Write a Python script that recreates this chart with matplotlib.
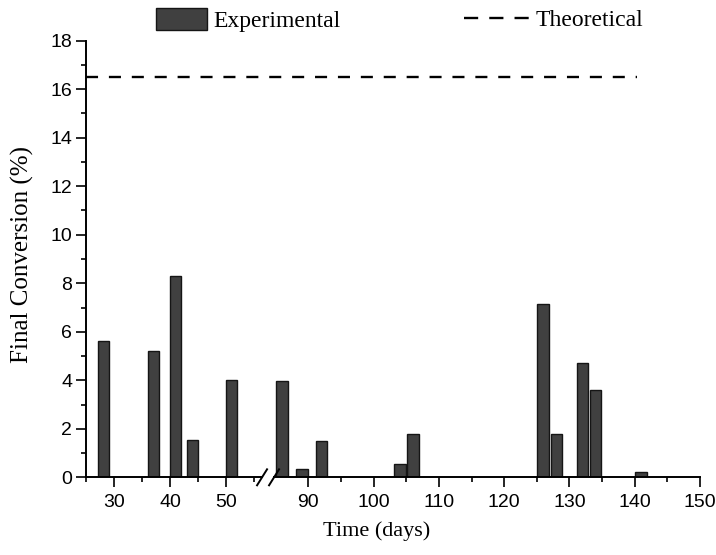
import numpy as np
import matplotlib
matplotlib.use("Agg")
import matplotlib.pyplot as plt
from matplotlib.patches import Patch, Rectangle
from matplotlib.lines import Line2D

# ---- data ----
days = [28, 37, 41, 44, 51, 86, 89, 92, 104, 106, 126, 128, 132, 134, 141]
conversion = [5.6, 5.2, 8.3, 1.55, 4.0, 3.95, 0.35, 1.5, 0.55, 1.8, 7.15, 1.8, 4.7, 3.6, 0.22]
theoretical = 16.5
theo_range = [25, 140.4]
major_xticks = [30, 40, 50, 90, 100, 110, 120, 130, 140, 150]
minor_xticks = [25, 35, 45, 55, 95, 105, 115, 125, 135, 145]

# ---- broken axis scale ----
X0, B1, B2, XMAX = 24.92, 57.43, 83.67, 150.0
S1, S2 = 5.57, 6.528   # relative scale of the two segments


def fwd(x):
    x = np.asarray(x, dtype=float)
    left = (x - X0) * S1
    right = (B1 - X0) * S1 + (np.maximum(x, B2) - B2) * S2
    return np.where(x <= B1, left, right)


def inv(u):
    u = np.asarray(u, dtype=float)
    ub = (B1 - X0) * S1
    return np.where(u <= ub, u / S1 + X0, (u - ub) / S2 + B2)


plt.rcParams['font.family'] = ['Liberation Sans', 'DejaVu Sans']
serif = ['Liberation Serif', 'DejaVu Serif']

fig = plt.figure(figsize=(7.16, 5.55), dpi=100)
ax = fig.add_axes([86 / 716, 1 - 477.3 / 555, (700 - 86) / 716, (477.3 - 40.7) / 555])
ax.set_xscale('function', functions=(fwd, inv))
ax.set_xlim(X0, XMAX)
ax.set_ylim(0, 18)

widths = [2.0 if d < B1 else 1.8 for d in days]
ax.bar(days, conversion, width=widths, color='#404040', edgecolor='#151515',
       linewidth=1.0, zorder=2)
ax.hlines(theoretical, theo_range[0], theo_range[1], colors='black',
          linestyles=(0, (5.1, 4.6)), linewidth=1.7, zorder=3)

ax.set_xticks(major_xticks)
ax.set_xticks(minor_xticks, minor=True)
ax.set_yticks(np.arange(0, 19, 2))
ax.set_yticks(np.arange(1, 18, 2), minor=True)
ax.tick_params(axis='both', which='major', direction='out', length=7, width=1.2,
               labelsize=14)
ax.tick_params(axis='x', which='major', pad=5)
ax.tick_params(axis='y', which='major', pad=3)
ax.tick_params(axis='both', which='minor', direction='out', length=3.5, width=1.2)

for s in ['top', 'right']:
    ax.spines[s].set_visible(False)
for s in ['left', 'bottom']:
    ax.spines[s].set_linewidth(1.4)

ax.set_xlabel('Time (days)', fontsize=16, family=serif)
ax.set_ylabel('Final Conversion (%)', fontsize=18, family=serif)
ax.xaxis.set_label_coords(0.4734, -0.10)
ax.yaxis.set_label_coords(-0.085, 0.51)

# ---- break marks ----
bfrac = float(fwd(B1) / fwd(XMAX))
W = 614.0
H = 436.6
bx = bfrac
ax.add_patch(Rectangle((bx - 4 / W, -3 / H), 10 / W, 6 / H, transform=ax.transAxes,
                       facecolor='white', edgecolor='none', clip_on=False, zorder=5))
for c in (-5, 7):
    ax.add_line(Line2D([bx + (c - 5) / W, bx + (c + 5) / W], [-8 / H, 8 / H],
                       transform=ax.transAxes, color='black', linewidth=1.4,
                       clip_on=False, zorder=6))

# ---- legends ----
h1 = Patch(facecolor='#404040', edgecolor='#151515', linewidth=1.0)
h2 = Line2D([], [], color='black', linestyle=(0, (6.0, 4.7)), linewidth=1.7)
leg1 = fig.legend([h1], ['Experimental'], loc='center left',
                  bbox_to_anchor=(156 / 716, 1 - 20 / 555), frameon=False,
                  prop={'family': serif, 'size': 17}, handlelength=2.16,
                  handleheight=1.1, handletextpad=0.25, borderpad=0, borderaxespad=0)
leg2 = fig.legend([h2], ['Theoretical'], loc='center left',
                  bbox_to_anchor=(464 / 716, 1 - 20 / 555), frameon=False,
                  prop={'family': serif, 'size': 17}, handlelength=2.84,
                  handletextpad=0.2, borderpad=0, borderaxespad=0)

fig.savefig('out.png', dpi=100)
